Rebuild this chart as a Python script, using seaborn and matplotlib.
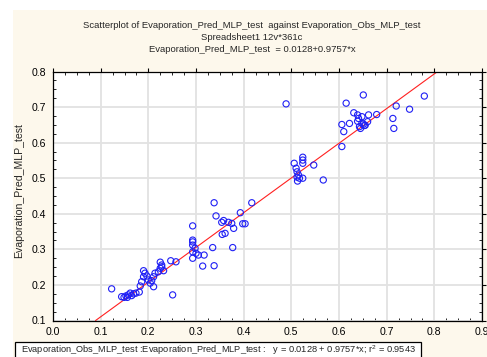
import matplotlib
matplotlib.use("Agg")
import matplotlib.pyplot as plt
import seaborn as sns
import pandas as pd
import numpy as np
from matplotlib.patches import Rectangle
from matplotlib.ticker import MultipleLocator

obs = [0.123, 0.144, 0.149, 0.153, 0.156, 0.158, 0.162, 0.165, 0.169, 0.174, 0.181,
       0.183, 0.186, 0.190, 0.190, 0.193, 0.197, 0.200, 0.204, 0.207, 0.211, 0.214,
       0.211, 0.221, 0.225, 0.228, 0.232, 0.225, 0.228, 0.247, 0.258, 0.251,
       0.293, 0.293, 0.293, 0.293, 0.298, 0.293, 0.300, 0.293, 0.305, 0.317, 0.314,
       0.338, 0.335, 0.377, 0.338, 0.342, 0.354, 0.358, 0.368, 0.375, 0.379, 0.361,
       0.355, 0.393, 0.398, 0.403, 0.417,
       0.489, 0.506, 0.510, 0.512, 0.515, 0.512, 0.517, 0.513, 0.524, 0.524, 0.524,
       0.524, 0.547, 0.567, 0.606, 0.606, 0.610, 0.622, 0.615, 0.631, 0.639, 0.641,
       0.648, 0.651, 0.662, 0.679, 0.639, 0.648, 0.653, 0.660, 0.643, 0.645, 0.655,
       0.651, 0.713, 0.715, 0.720, 0.748, 0.779]
pred = [0.189, 0.167, 0.165, 0.169, 0.165, 0.172, 0.177, 0.170, 0.175, 0.177, 0.180,
        0.197, 0.209, 0.223, 0.240, 0.233, 0.225, 0.214, 0.205, 0.212, 0.223, 0.233,
        0.195, 0.237, 0.247, 0.251, 0.240, 0.264, 0.256, 0.268, 0.265, 0.172,
        0.366, 0.326, 0.321, 0.312, 0.303, 0.293, 0.289, 0.275, 0.284, 0.284, 0.253,
        0.254, 0.305, 0.305, 0.431, 0.394, 0.376, 0.381, 0.376, 0.373, 0.359, 0.345,
        0.342, 0.403, 0.372, 0.372, 0.431,
        0.709, 0.542, 0.528, 0.518, 0.509, 0.503, 0.500, 0.492, 0.500, 0.559, 0.551,
        0.542, 0.537, 0.495, 0.589, 0.651, 0.631, 0.654, 0.711, 0.684, 0.678, 0.668,
        0.673, 0.734, 0.678, 0.679, 0.660, 0.654, 0.648, 0.659, 0.645, 0.640, 0.649,
        0.652, 0.668, 0.640, 0.703, 0.694, 0.731]
intercept = 0.0128
slope = 0.9757
x_ticks = [0.0, 0.1, 0.2, 0.3, 0.4, 0.5, 0.6, 0.7, 0.8, 0.9]
y_ticks = [0.1, 0.2, 0.3, 0.4, 0.5, 0.6, 0.7, 0.8]

title_lines = ["Scatterplot of Evaporation_Pred_MLP_test  against Evaporation_Obs_MLP_test",
               "Spreadsheet1 12v*361c",
               "Evaporation_Pred_MLP_test  = 0.0128+0.9757*x"]
ylabel = "Evaporation_Pred_MLP_test"
legend_text = ("Evaporation_Obs_MLP_test :Evaporation_Pred_MLP_test :   "
               "y = 0.0128 + 0.9757*x; r$^2$ = 0.9543")

sns.set_style("white")
plt.rcParams['font.family'] = ['Liberation Sans', 'DejaVu Sans']
plt.rcParams['mathtext.fontset'] = 'custom'
plt.rcParams['mathtext.rm'] = 'Liberation Sans'

W, H = 487, 357
fig = plt.figure(figsize=(W / 100, H / 100), dpi=100)
fig.patch.set_facecolor("white")
cream = "#FDF8EC"
fig.patches.append(Rectangle((13 / W, 0), 1 - 13 / W, 1 - 10 / H, transform=fig.transFigure,
                             facecolor=cream, edgecolor="none", zorder=-10))

ax = fig.add_axes([53 / W, 1 - 320.5 / H, (482 - 53) / W, (320.5 - 71.5) / H])
ax.set_facecolor("white")

df = pd.DataFrame({"obs": obs, "pred": pred})
sns.scatterplot(data=df, x="obs", y="pred", ax=ax, marker="o", s=20,
                facecolor="none", edgecolor="#1F1FF5", linewidth=0.8, zorder=3)
ax.axline((0, intercept), slope=slope, color="#FF2020", linewidth=0.8, zorder=2)

ax.set_xlim(0.0, 0.9)
ax.set_ylim(0.1, 0.8)
ax.set_xticks(x_ticks)
ax.set_yticks(y_ticks)
ax.set_xticklabels([f"{v:.1f}" for v in x_ticks])
ax.set_yticklabels([f"{v:.1f}" for v in y_ticks])
ax.xaxis.set_minor_locator(MultipleLocator(0.025))
ax.yaxis.set_minor_locator(MultipleLocator(0.025))
ax.grid(True, which="major", color="#E2E2E2", linewidth=1.3, zorder=0)
ax.set_axisbelow(True)
for s in ax.spines.values():
    s.set_color("black")
    s.set_linewidth(0.9)
ax.tick_params(which="major", direction="out", length=3, width=0.8, labelsize=7.6,
               pad=2, colors="black", top=True, right=True)
ax.tick_params(which="minor", direction="in", length=2.5, width=0.7,
               top=True, right=True, bottom=True, left=True)
ax.set_xlabel("")
ax.set_ylabel(ylabel, fontsize=7.6)
ax.yaxis.set_label_coords(-0.068, 0.52)

for i, t in enumerate(title_lines):
    fig.text(252 / W, 1 - (25 + 12 * i) / H, t, ha="center", va="center", fontsize=6.8)

fig.patches.append(Rectangle((15 / W, -0.05), (421 - 15) / W, (357 - 342) / H + 0.05,
                             transform=fig.transFigure, facecolor="white",
                             edgecolor="black", linewidth=0.9, zorder=5))
fig.text(21 / W, 1 - 350 / H, legend_text, ha="left", va="center", fontsize=6.65, zorder=6)

fig.savefig("out.png", dpi=100)
